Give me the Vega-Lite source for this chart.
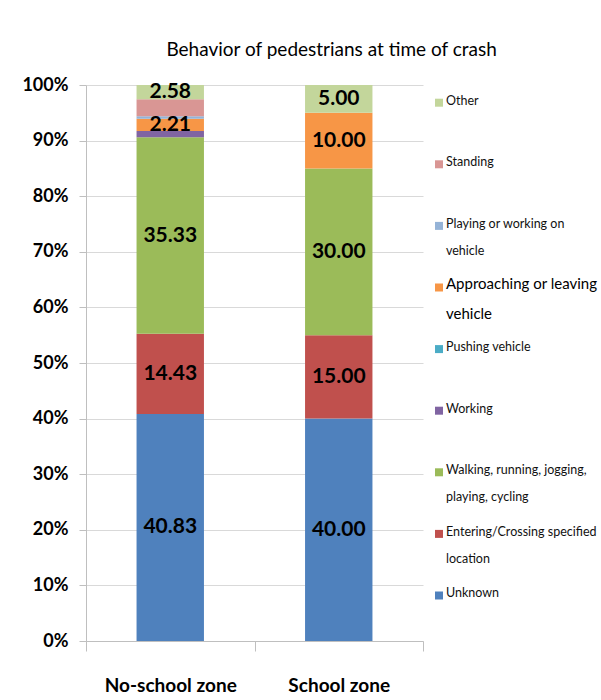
{
  "$schema": "https://vega.github.io/schema/vega-lite/v6.json",
  "background": "white",
  "padding": {"left": 21, "top": 41, "right": 5, "bottom": 5},
  "title": {"text": "Behavior of pedestrians at time of crash", "font": "Lato", "fontSize": 19, "fontWeight": "normal", "color": "#000000", "anchor": "middle", "dx": 22, "offset": 16},
  "datasets": {
    "bars": [
      {"zone": "No-school zone", "behavior": "Unknown", "pct": 40.83},
      {"zone": "No-school zone", "behavior": "Entering/Crossing specified location", "pct": 14.43},
      {"zone": "No-school zone", "behavior": "Walking, running, jogging, playing, cycling", "pct": 35.33},
      {"zone": "No-school zone", "behavior": "Working", "pct": 1.15},
      {"zone": "No-school zone", "behavior": "Approaching or leaving vehicle", "pct": 2.21},
      {"zone": "No-school zone", "behavior": "Playing or working on vehicle", "pct": 0.45},
      {"zone": "No-school zone", "behavior": "Standing", "pct": 3.02},
      {"zone": "No-school zone", "behavior": "Other", "pct": 2.58},
      {"zone": "School zone", "behavior": "Unknown", "pct": 40.0},
      {"zone": "School zone", "behavior": "Entering/Crossing specified location", "pct": 15.0},
      {"zone": "School zone", "behavior": "Walking, running, jogging, playing, cycling", "pct": 30.0},
      {"zone": "School zone", "behavior": "Approaching or leaving vehicle", "pct": 10.0},
      {"zone": "School zone", "behavior": "Other", "pct": 5.0}
    ],
    "legend": [
      {"behavior": "Other", "label": "Other"},
      {"behavior": "Standing", "label": "Standing"},
      {"behavior": "Playing or working on vehicle", "label": "Playing or working on\nvehicle"},
      {"behavior": "Approaching or leaving vehicle", "label": "Approaching or leaving\nvehicle"},
      {"behavior": "Pushing vehicle", "label": "Pushing vehicle"},
      {"behavior": "Working", "label": "Working"},
      {"behavior": "Walking, running, jogging, playing, cycling", "label": "Walking, running, jogging,\nplaying, cycling"},
      {"behavior": "Entering/Crossing specified location", "label": "Entering/Crossing specified\nlocation"},
      {"behavior": "Unknown", "label": "Unknown"}
    ]
  },
  "spacing": 10,
  "resolve": {"scale": {"color": "independent"}},
  "config": {"view": {"stroke": null}},
  "hconcat": [
    {
      "width": 337,
      "height": 556,
      "data": {"name": "bars"},
      "transform": [{"window": [{"op": "row_number", "as": "stack_order"}]}],
      "encoding": {
        "x": {"field": "zone", "type": "nominal", "sort": ["No-school zone", "School zone"],
          "scale": {"paddingInner": 0, "paddingOuter": 0},
          "axis": {"title": null, "labelAngle": 0, "tickBand": "extent", "tickSize": 10, "labelPadding": 25, "labelFontSize": 19, "labelFont": "Lato", "labelFontWeight": "bold", "labelColor": "#000000", "domainColor": "#bfbfbf", "tickColor": "#bfbfbf", "grid": false}},
        "y": {"field": "pct", "type": "quantitative", "stack": "normalize",
          "scale": {"domain": [0, 1]},
          "axis": {"title": null, "format": ".0%", "values": [0, 0.1, 0.2, 0.3, 0.4, 0.5, 0.6, 0.7, 0.8, 0.9, 1], "tickSize": 7, "labelPadding": 11, "labelFontSize": 18, "labelFont": "Lato", "labelFontWeight": "bold", "labelColor": "#000000", "grid": true, "gridColor": "#d9d9d9", "domainColor": "#bfbfbf", "tickColor": "#bfbfbf"}},
        "order": {"field": "stack_order", "type": "quantitative", "sort": "ascending"}
      },
      "resolve": {"scale": {"color": "independent"}},
      "layer": [
        {
          "mark": {"type": "bar", "width": {"band": 0.4}},
          "encoding": {
            "color": {"field": "behavior", "type": "nominal",
              "scale": {"domain": ["Unknown", "Entering/Crossing specified location", "Walking, running, jogging, playing, cycling", "Working", "Pushing vehicle", "Approaching or leaving vehicle", "Playing or working on vehicle", "Standing", "Other"],
                "range": ["#4F81BD", "#C0504D", "#9BBB59", "#8064A2", "#4BACC6", "#F79646", "#95B3D7", "#D99694", "#C3D69B"]},
              "legend": null}
          }
        },
        {
          "mark": {"type": "text", "font": "Lato", "fontSize": 21, "fontWeight": "bold", "baseline": "middle", "align": "center"},
          "encoding": {
            "y": {"field": "pct", "type": "quantitative", "stack": "normalize", "bandPosition": 0.5},
            "color": {"field": "behavior", "type": "nominal",
              "scale": {"domain": ["Unknown", "Entering/Crossing specified location", "Walking, running, jogging, playing, cycling", "Working", "Pushing vehicle", "Approaching or leaving vehicle", "Playing or working on vehicle", "Standing", "Other"], "range": ["#000000"]},
              "legend": null},
            "text": {"condition": {"test": "datum.pct >= 2 && datum.behavior !== 'Standing'", "field": "pct", "type": "quantitative", "format": ".2f"}, "value": ""}
          }
        }
      ]
    },
    {
      "width": 10,
      "height": 556,
      "data": {"name": "legend"},
      "encoding": {
        "y": {"field": "behavior", "type": "nominal",
          "scale": {"type": "point", "domain": ["Other", "Standing", "Playing or working on vehicle", "Approaching or leaving vehicle", "Pushing vehicle", "Working", "Walking, running, jogging, playing, cycling", "Entering/Crossing specified location", "Unknown"], "padding": 0.513, "align": 0.28},
          "axis": null}
      },
      "layer": [
        {
          "mark": {"type": "point", "shape": "square", "filled": true, "size": 64, "opacity": 1},
          "encoding": {
            "color": {"field": "behavior", "type": "nominal",
              "scale": {"domain": ["Unknown", "Entering/Crossing specified location", "Walking, running, jogging, playing, cycling", "Working", "Pushing vehicle", "Approaching or leaving vehicle", "Playing or working on vehicle", "Standing", "Other"],
                "range": ["#4F81BD", "#C0504D", "#9BBB59", "#8064A2", "#4BACC6", "#F79646", "#95B3D7", "#D99694", "#C3D69B"]},
              "legend": null}
          }
        },
        {
          "transform": [{"filter": "datum.behavior !== 'Approaching or leaving vehicle'"}],
          "mark": {"type": "text", "align": "left", "baseline": "top", "dx": 7, "dy": -8, "font": "Lato", "fontSize": 12.5, "lineHeight": 27, "lineBreak": "\n", "color": "#111111"},
          "encoding": {"text": {"field": "label", "type": "nominal"}}
        },
        {
          "transform": [{"filter": "datum.behavior === 'Approaching or leaving vehicle'"}],
          "mark": {"type": "text", "align": "left", "baseline": "top", "dx": 7, "dy": -10, "font": "Lato", "fontSize": 15, "lineHeight": 30, "lineBreak": "\n", "color": "#000000"},
          "encoding": {"text": {"field": "label", "type": "nominal"}}
        }
      ]
    }
  ]
}
